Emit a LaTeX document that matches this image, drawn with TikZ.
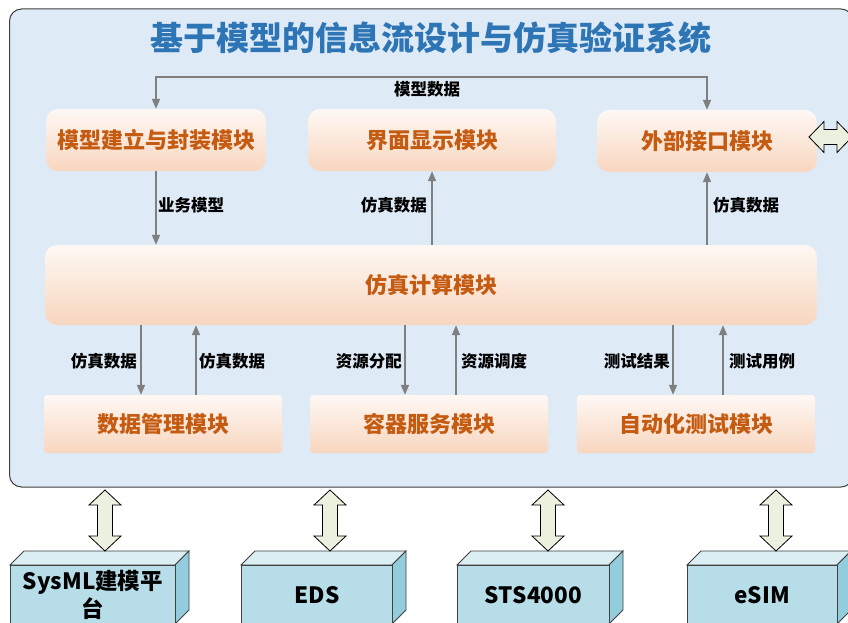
\documentclass[tikz,border=0pt]{standalone}
\usepackage{fontspec}
\setmainfont{Noto Sans CJK SC}
\usetikzlibrary{arrows.meta}
\definecolor{bgblue}{HTML}{DEEAF6}
\definecolor{frameline}{HTML}{404040}
\definecolor{titleblue}{HTML}{2E75B6}
\definecolor{modtop}{HTML}{FEF8F4}
\definecolor{modbot}{HTML}{F8D6BF}
\definecolor{modtxt}{HTML}{C55A11}
\definecolor{arrgray}{HTML}{7F7F7F}
\definecolor{dblfill}{HTML}{EBF1DE}
\definecolor{cubefront}{HTML}{B7DEE8}
\definecolor{cubetop}{HTML}{DAEEF3}
\definecolor{cubeside}{HTML}{93CDDD}
\tikzset{
  modbox/.style={rounded corners=12pt, top color=modtop, bottom color=modbot,
    text=modtxt, font=\fontsize{22}{26}\selectfont\bfseries, inner sep=0pt,
    minimum height=62pt},
  lowbox/.style={modbox, rounded corners=3pt, minimum height=58pt, minimum width=238pt},
  flowarrow/.style={draw=arrgray, line width=1.6pt, -{Triangle[length=10pt,width=8pt]}},
  lbl/.style={font=\fontsize{16.5}{19}\selectfont\bfseries, text=black, inner sep=2pt},
  dblarrow/.style={fill=dblfill, draw=black, line width=0.8pt},
  cubeface/.style={draw=frameline, line width=0.8pt},
  cubetext/.style={font=\fontsize{22.5}{28}\selectfont\bfseries, text=black, align=center}
}
\newcommand\vdblarrow[3]{%
  \filldraw[dblarrow] (#1,#2) -- (#1+16,#2+15) -- (#1+7.5,#2+15) -- (#1+7.5,#3-15)
    -- (#1+16,#3-15) -- (#1,#3) -- (#1-16,#3-15) -- (#1-7.5,#3-15)
    -- (#1-7.5,#2+15) -- (#1-16,#2+15) -- cycle;}
\newcommand\cuboid[3]{% name, left x, right x
  \filldraw[cubeface, fill=cubetop] (#2,565) -- (#2+14,551) -- (#3+14,551) -- (#3,565) -- cycle;
  \filldraw[cubeface, fill=cubeside] (#3,565) -- (#3+14,551) -- (#3+14,610) -- (#3,624) -- cycle;
}
\begin{document}
\begin{tikzpicture}[x=1pt,y=-1pt]
\useasboundingbox (0,0) rectangle (848,623);
\clip (0,0) rectangle (848,623);
\fill[white] (0,0) rectangle (848,623);
% container
\draw[fill=bgblue, draw=frameline, line width=1pt, rounded corners=12pt] (9.5,9) rectangle (853,487);
\node[font=\fontsize{33}{38}\selectfont\bfseries, text=titleblue] (title) at (431,38) {基于模型的信息流设计与仿真验证系统};
% modules
\node[modbox, minimum width=220pt] (mjl) at (156,140) {模型建立与封装模块};
\node[modbox, minimum width=248pt] (jm) at (432,140) {界面显示模块};
\node[modbox, minimum width=220pt] (wb) at (707,141) {外部接口模块};
\node[modbox, minimum width=772pt, minimum height=80pt] (fz) at (431,285) {仿真计算模块};
\node[lowbox] (sj) at (163,424) {数据管理模块};
\node[lowbox] (rq) at (429,424) {容器服务模块};
\node[lowbox] (zd) at (696,424) {自动化测试模块};
% top connector
\draw[draw=arrgray, line width=1.6pt, {Triangle[length=10pt,width=8pt]}-{Triangle[length=10pt,width=8pt]}]
  (mjl.north) -- (mjl.north |- 0,77) -- (wb.north |- 0,77) -- (wb.north);
\node[lbl] (l0) at (427,89) {模型数据};
% upper arrows
\draw[flowarrow] (mjl.south) -- (mjl.south |- fz.north);
\node[lbl, anchor=west] (l1) at (156,205) {业务模型};
\draw[flowarrow] (jm.south |- fz.north) -- (jm.south);
\node[lbl, anchor=east] (l2) at (429,205) {仿真数据};
\draw[flowarrow] (wb.south |- fz.north) -- (wb.south);
\node[lbl, anchor=west] (l3) at (711,205) {仿真数据};
% lower arrows
\draw[flowarrow] (141,0 |- fz.south) -- (141,0 |- sj.north);
\node[lbl, anchor=east] (l4) at (139,361) {仿真数据};
\draw[flowarrow] (196,0 |- sj.north) -- (196,0 |- fz.south);
\node[lbl, anchor=west] (l5) at (197,361) {仿真数据};
\draw[flowarrow] (405,0 |- fz.south) -- (405,0 |- rq.north);
\node[lbl, anchor=east] (l6) at (404,361) {资源分配};
\draw[flowarrow] (456,0 |- rq.north) -- (456,0 |- fz.south);
\node[lbl, anchor=west] (l7) at (459,361) {资源调度};
\draw[flowarrow] (673,0 |- fz.south) -- (673,0 |- zd.north);
\node[lbl, anchor=east] (l8) at (672,361) {测试结果};
\draw[flowarrow] (723,0 |- zd.north) -- (723,0 |- fz.south);
\node[lbl, anchor=west] (l9) at (727,361) {测试用例};
% side double arrow
\filldraw[dblarrow] (809,137) -- (824,121.5) -- (824,129.5) -- (837,129.5) -- (837,121.5)
  -- (852,137) -- (837,152.5) -- (837,144.5) -- (824,144.5) -- (824,152.5) -- cycle;
% external systems
\cuboid{a}{10}{175}
\node[cubeface, fill=cubefront, minimum width=165pt, minimum height=59pt, anchor=north west, inner sep=0pt, cubetext] (sysml) at (10,565) {SysML建模平\\台};
\cuboid{b}{241}{392}
\node[cubeface, fill=cubefront, minimum width=151pt, minimum height=59pt, anchor=north west, inner sep=0pt, cubetext] (eds) at (241,565) {EDS};
\cuboid{c}{457}{609}
\node[cubeface, fill=cubefront, minimum width=152pt, minimum height=59pt, anchor=north west, inner sep=0pt, cubetext] (sts) at (457,565) {STS4000};
\cuboid{d}{687}{837}
\node[cubeface, fill=cubefront, minimum width=150pt, minimum height=59pt, anchor=north west, inner sep=0pt, cubetext] (esim) at (687,565) {eSIM};
% vertical double arrows
\vdblarrow{105}{490}{551}
\vdblarrow{330}{490}{551}
\vdblarrow{548}{490}{551}
\vdblarrow{776}{490}{551}
\end{tikzpicture}
\end{document}
